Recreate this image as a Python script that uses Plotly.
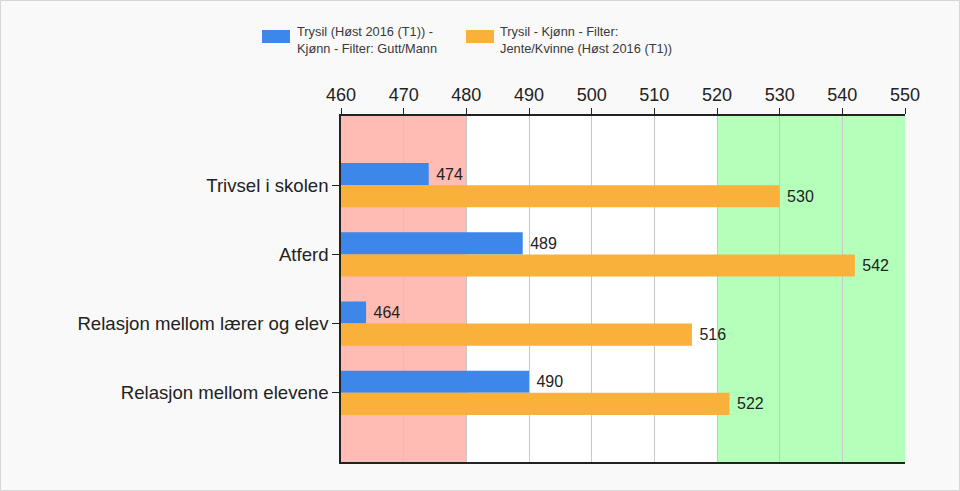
import plotly.graph_objects as go

categories = ["Trivsel i skolen", "Atferd", "Relasjon mellom lærer og elev", "Relasjon mellom elevene"]
gutt_values = [474, 489, 464, 490]
jente_values = [530, 542, 516, 522]
series_names = ["Trysil (Høst 2016 (T1)) -<br>Kjønn - Filter: Gutt/Mann",
                "Trysil - Kjønn - Filter:<br>Jente/Kvinne (Høst 2016 (T1))"]
series_colors = ["#3d86ea", "#f9b13b"]
x_ticks = [460, 470, 480, 490, 500, 510, 520, 530, 540, 550]
low_band = [460, 480]
high_band = [520, 550]

W, H = 960, 491
ML, MR, MT, MB = 341, 55, 116, 29
PW, PH = W - ML - MR, H - MT - MB


def px(x):
    return (x - ML) / PW


def py(y):
    return (H - MB - y) / PH


fig = go.Figure()
for vals, name, col in zip([gutt_values, jente_values], series_names, series_colors):
    fig.add_trace(go.Bar(y=categories, x=vals, orientation="h", name=name,
                         marker=dict(color=col, line=dict(width=0)),
                         text=[" " + str(v) for v in vals], textposition="outside",
                         textfont=dict(size=16, color="#222", family="Arial"),
                         cliponaxis=False, showlegend=False, hoverinfo="skip"))

fig.add_shape(type="rect", xref="x", yref="paper", x0=low_band[0], x1=low_band[1], y0=0, y1=1,
              fillcolor="#ffbcb4", line=dict(width=0), layer="below")
fig.add_shape(type="rect", xref="x", yref="paper", x0=high_band[0], x1=high_band[1], y0=0, y1=1,
              fillcolor="#b4ffb9", line=dict(width=0), layer="below")
# outer frame
fig.add_shape(type="rect", xref="paper", yref="paper", x0=px(0.5), x1=px(W - 0.5),
              y0=py(H - 0.5), y1=py(0.5), line=dict(width=1, color="#d6d6d6"),
              fillcolor="rgba(0,0,0,0)", layer="below")

# legend drawn by hand
legend_swatch_x = [262, 466]
legend_text_x = [295, 498]
for sx, tx, name, col in zip(legend_swatch_x, legend_text_x, series_names, series_colors):
    fig.add_shape(type="rect", xref="paper", yref="paper", x0=px(sx), x1=px(sx + 28),
                  y0=py(43), y1=py(30), fillcolor=col, line=dict(width=0))
    fig.add_annotation(xref="paper", yref="paper", x=px(tx), y=py(40.5), xanchor="left",
                       yanchor="middle", align="left", showarrow=False, text=name,
                       font=dict(family="Liberation Sans, Arial, sans-serif", size=12.8, color="#3a3a3a"))

fig.update_layout(
    width=W, height=H,
    paper_bgcolor="#f9f9f9", plot_bgcolor="white",
    margin=dict(l=ML, r=MR, t=MT, b=MB),
    barmode="group", bargap=0.36, bargroupgap=0,
    font=dict(family="Arial", color="#222"),
    showlegend=False,
    xaxis=dict(side="top", range=[460, 550], tickvals=x_ticks, ticks="outside", ticklen=6,
               tickcolor="#222", tickfont=dict(size=18, family="Arial", color="#222"),
               showgrid=True, gridcolor="#c8c8c8", gridwidth=1,
               showline=True, linecolor="#222", linewidth=1.5, mirror=True, zeroline=False),
    yaxis=dict(range=[4, -1], ticks="outside", ticklen=7, tickcolor="#222",
               tickfont=dict(size=18.6, family="Arial", color="#222"),
               showgrid=False, showline=True, linecolor="#222", linewidth=1.5, zeroline=False),
)
fig.write_html("out.html", post_script="document.body.style.margin='0';",
               config={"displayModeBar": False})
